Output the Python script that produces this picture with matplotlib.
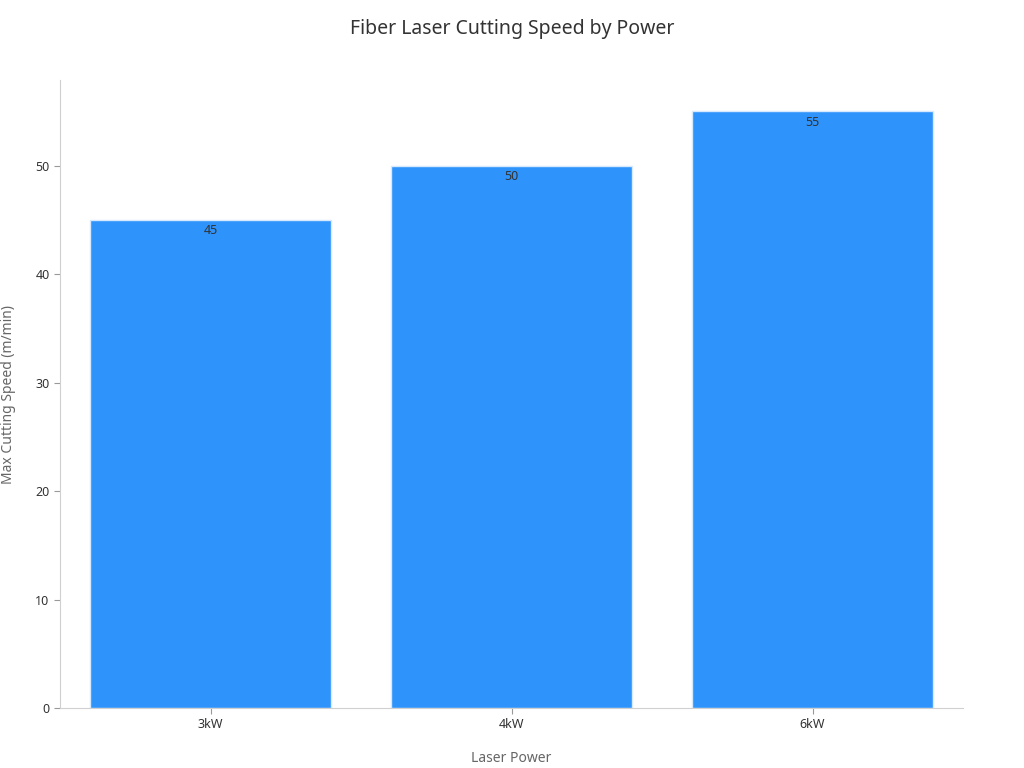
import matplotlib
matplotlib.use("Agg")
import matplotlib.pyplot as plt

categories = ["3kW", "4kW", "6kW"]
speeds = [45, 50, 55]

plt.rcParams['font.family'] = ['Noto Sans', 'DejaVu Sans']
fig = plt.figure(figsize=(10.24, 7.68), dpi=100)
ax = fig.add_axes([60/1024, 60/768, 903/1024, 628/768])
x = range(len(categories))
bars = ax.bar(x, speeds, width=0.8, color="#2E93FA", edgecolor="#D6E9FD", linewidth=1)
for xi, v in zip(x, speeds):
    ax.text(xi, v - 0.4, str(v), ha="center", va="top", fontsize=9, color="#333333")
ax.set_xlim(-0.5, 2.5)
ax.set_ylim(0, 57.9)
ax.set_xticks(list(x))
ax.set_xticklabels(categories)
ax.set_yticks([0, 10, 20, 30, 40, 50])
ax.tick_params(labelsize=9, colors="#333333")
ax.tick_params(axis="both", color="#999999", length=4)
for s in ["top", "right"]:
    ax.spines[s].set_visible(False)
for s in ["left", "bottom"]:
    ax.spines[s].set_color("#D0D0D0")
ax.set_xlabel("Laser Power", fontsize=10, color="#666666", labelpad=14)
ax.set_ylabel("Max Cutting Speed (m/min)", fontsize=10, color="#666666", labelpad=14)
fig.suptitle("Fiber Laser Cutting Speed by Power", y=0.975, fontsize=14, color="#333333")
fig.savefig("out.png", dpi=100)
